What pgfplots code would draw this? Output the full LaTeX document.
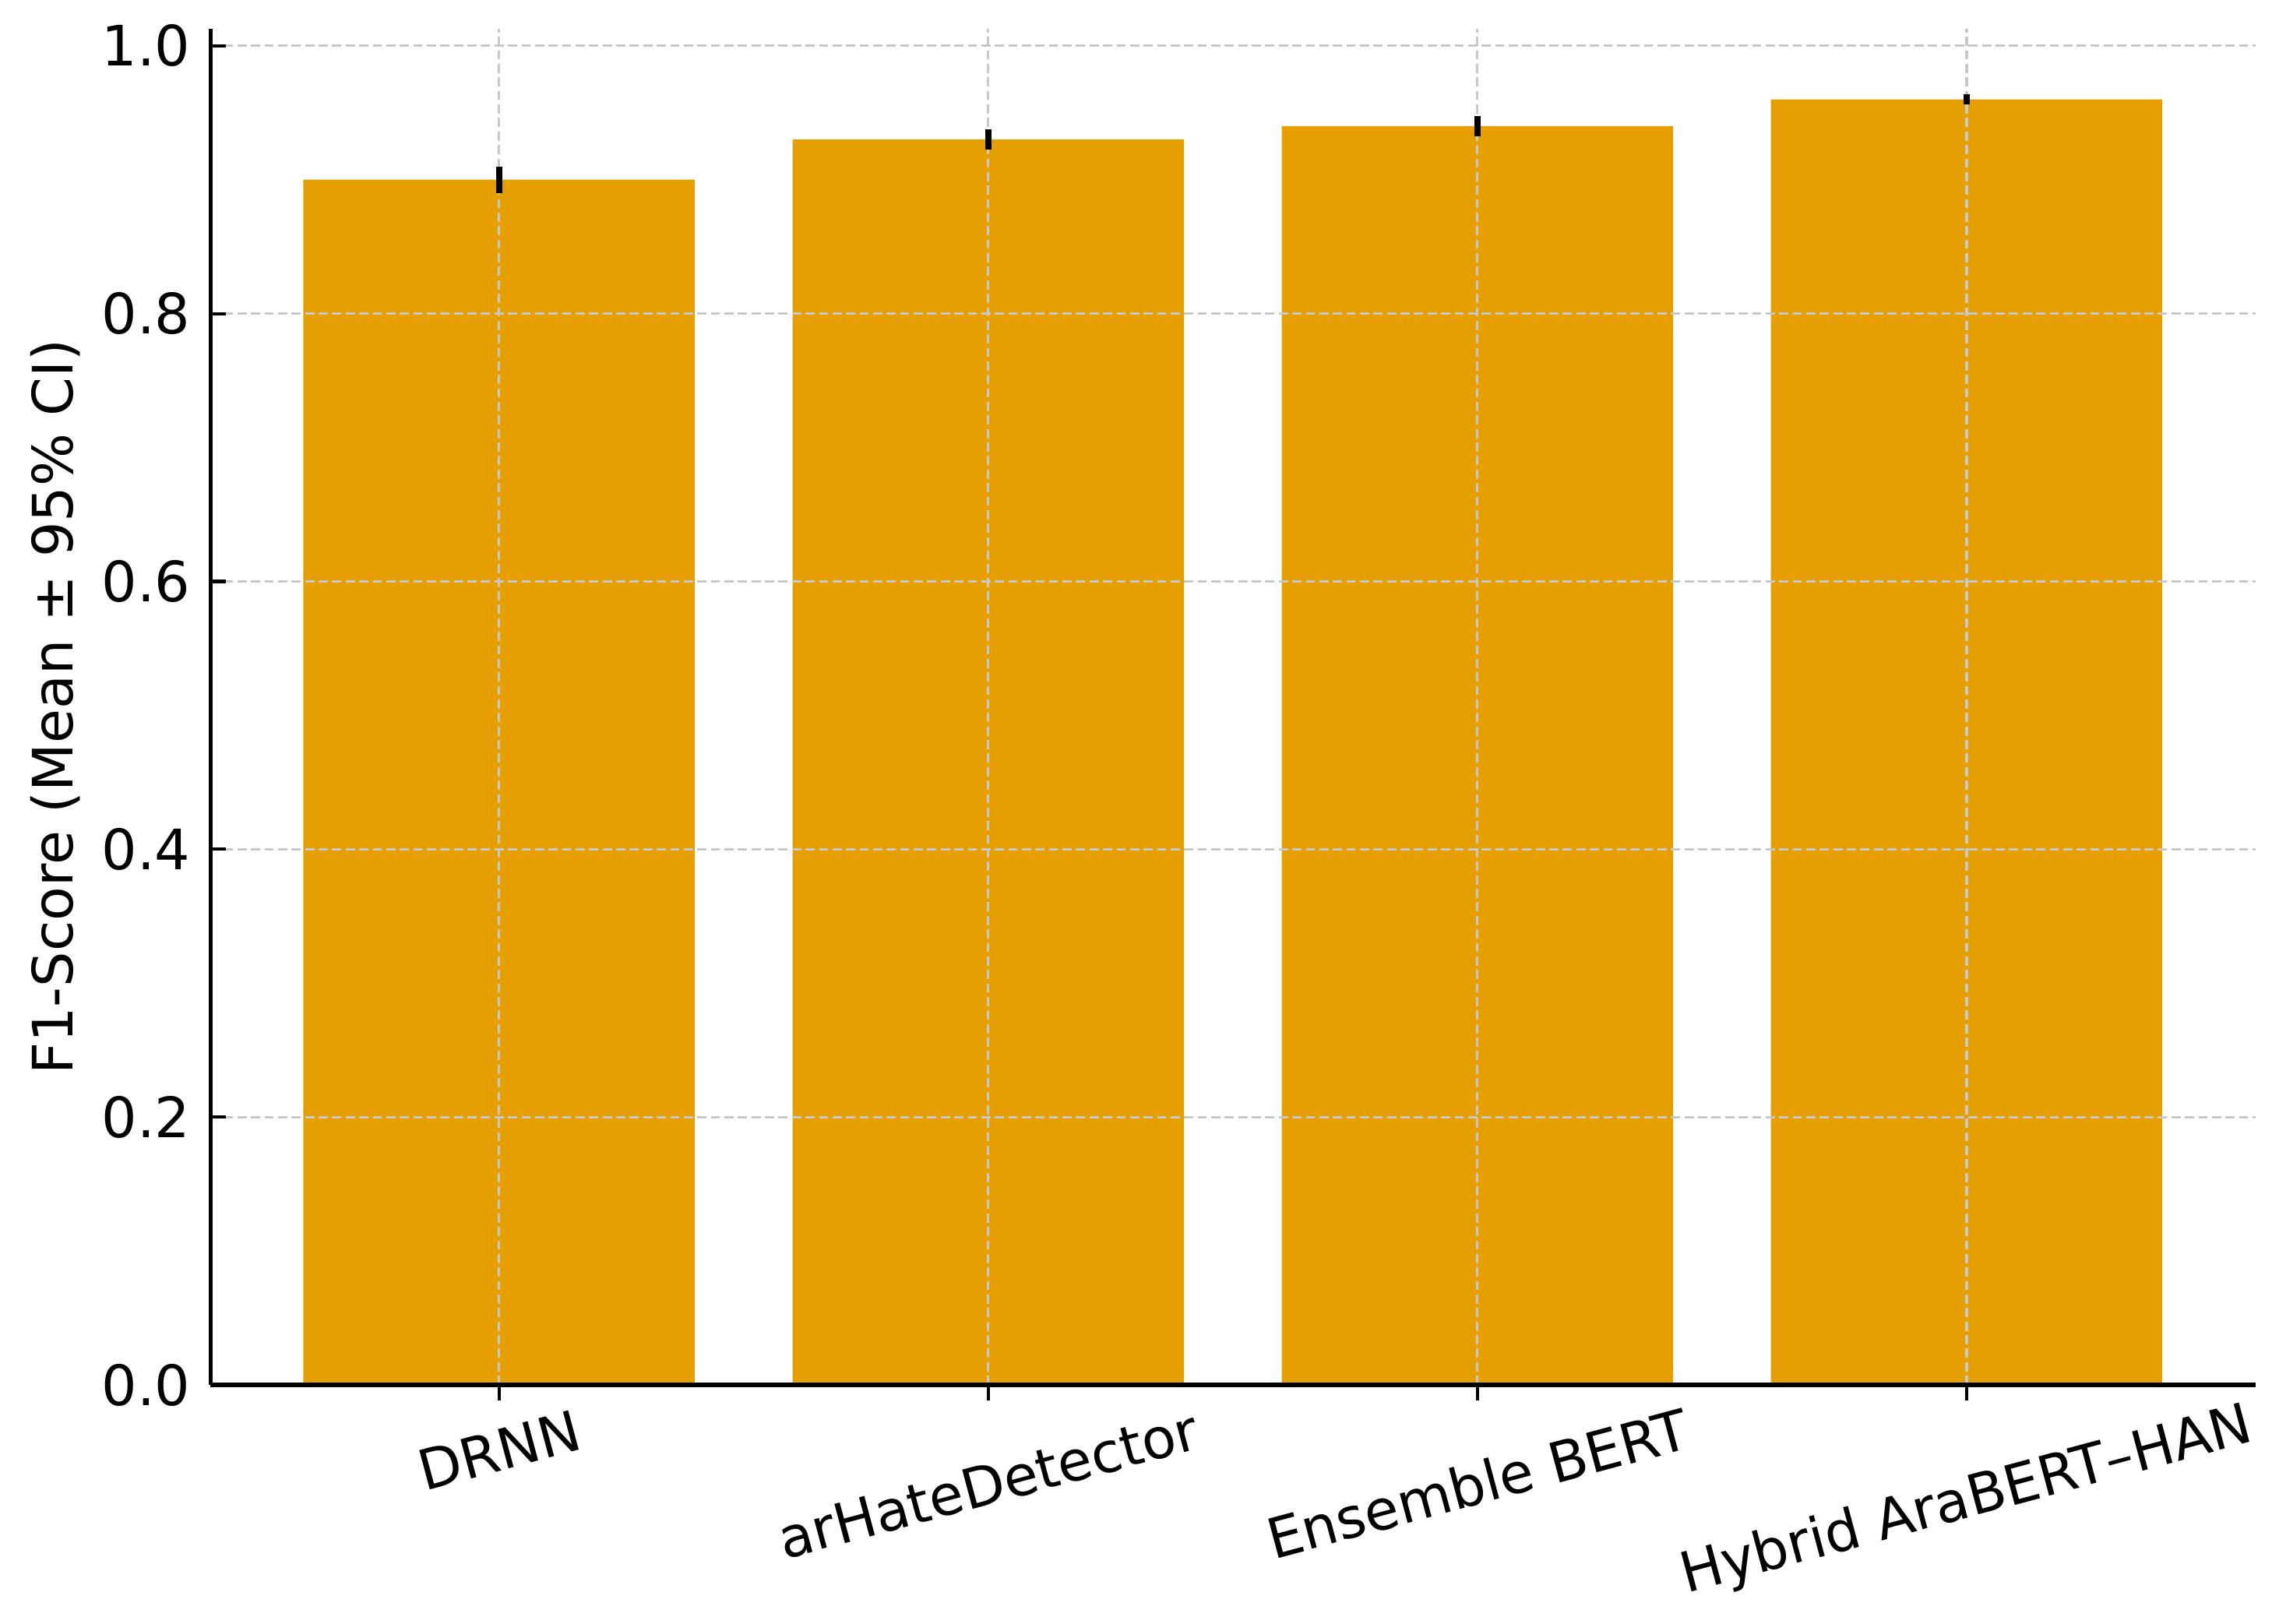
\documentclass[border=0pt]{standalone}
\usepackage{pgfplots}
\pgfplotsset{compat=1.18}
\usepackage{fontspec}
\setmainfont{DejaVu Sans}
\definecolor{barorange}{HTML}{E69F00}
\definecolor{gridgray}{HTML}{C8C8C8}
\begin{document}
\fontsize{10.3}{12}\selectfont
\begin{tikzpicture}
\begin{axis}[
  at={(0,0)}, anchor=south west,
  scale only axis, width=378pt, height=250.7pt,
  xmin=-0.59, xmax=3.59, ymin=0, ymax=1.0128,
  axis x line*=bottom, axis y line*=left,
  axis line style={line width=0.75pt, black, -},
  xtick={0,1,2,3},
  xticklabels={DRNN, arHateDetector, Ensemble BERT, Hybrid AraBERT–HAN},
  ytick={0,0.2,0.4,0.6,0.8,1.0},
  yticklabel style={/pgf/number format/fixed, /pgf/number format/fixed zerofill, /pgf/number format/precision=1, inner sep=0pt, anchor=east, xshift=-3.5pt},
  /pgf/number format/assume math mode=true,
  tick align=inside, major tick length=2.9pt,
  tick style={line width=0.6pt, black},
  xticklabel style={inner sep=0pt,
    yshift={-1pt*{9.2,15.5,15.3,18.8}[\ticknum]}, rotate=15, anchor=center},
  xmajorgrids, ymajorgrids,
  grid style={gridgray, line width=0.45pt, dash pattern=on 1.7pt off 0.8pt},
  axis on top,
  ylabel={F1-Score (Mean ± 95\% CI)},
  ylabel style={at={(axis description cs:-0.0759,0.5)}, anchor=center, inner sep=0pt},
  ybar, bar width=0.8, bar shift=0pt,
  tick label style={font=\fontsize{10.3}{12}\selectfont},
  label style={font=\fontsize{10.3}{12}\selectfont},
]
\addplot[fill=barorange, draw=none]
  coordinates {
    (0,0.900)
    (1,0.930)
    (2,0.940)
    (3,0.960)
  };
\end{axis}
\begin{axis}[
  at={(0,0)}, anchor=south west,
  scale only axis, width=378pt, height=250.7pt,
  xmin=-0.59, xmax=3.59, ymin=0, ymax=1.0128,
  hide axis,
]
\addplot[draw=none, mark=none,
  error bars/.cd, y dir=both, y explicit,
  error mark=none,
  error bar style={line width=1.2pt, black, solid}]
  coordinates {
    (0,0.900) +- (0,0.010)
    (1,0.930) +- (0,0.0075)
    (2,0.940) +- (0,0.0075)
    (3,0.960) +- (0,0.004)
  };
\end{axis}
\pgfresetboundingbox
\path (-38.9pt,-44.2pt) rectangle (381.1pt,256pt);
\end{tikzpicture}
\end{document}
